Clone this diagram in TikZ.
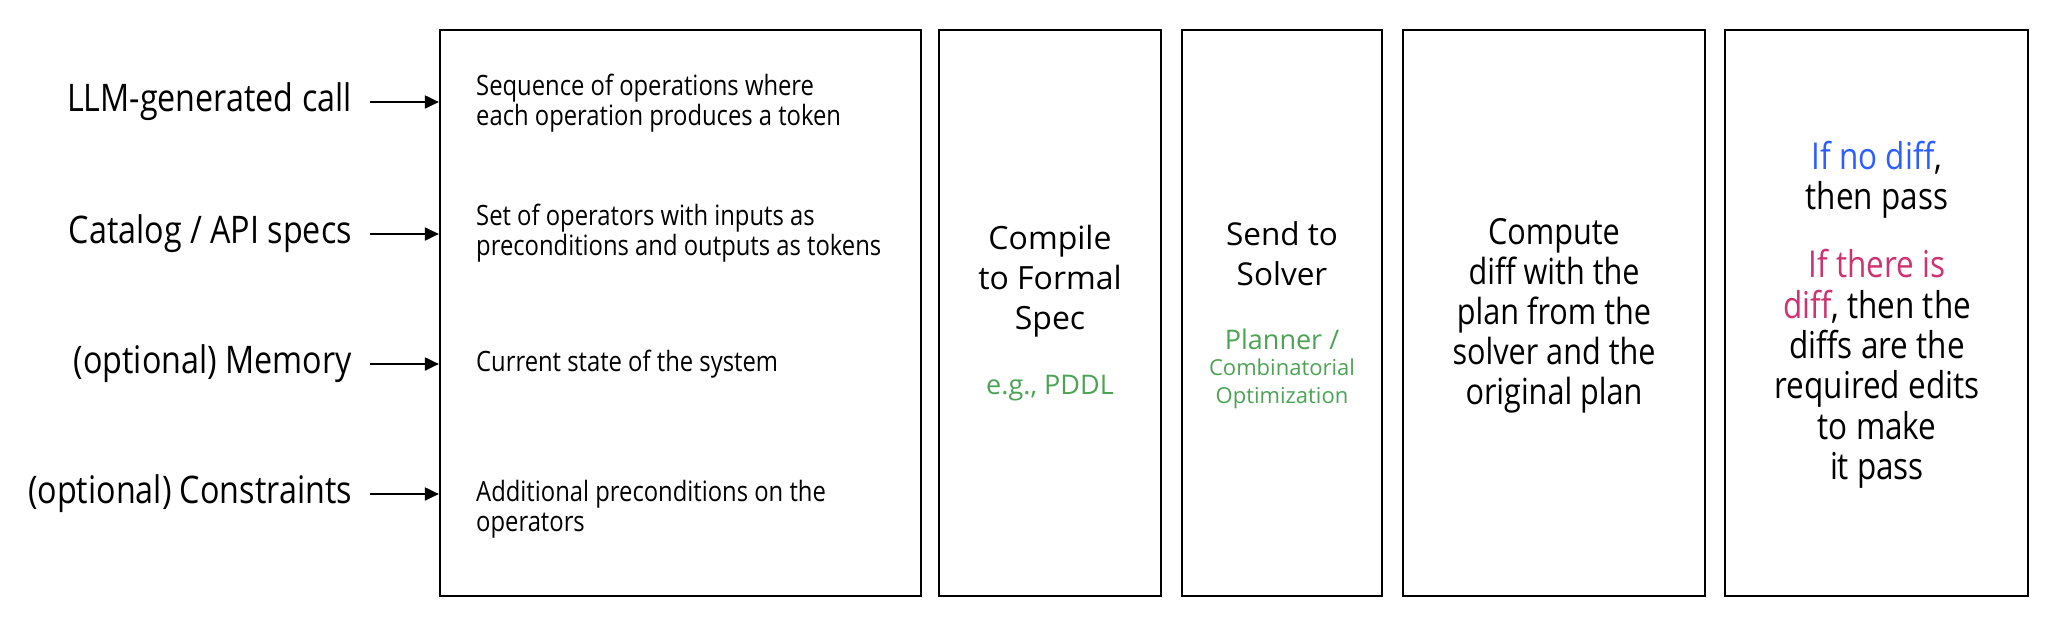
\documentclass[tikz,border=0pt]{standalone}
\usepackage{fontspec}
\setmainfont{Open Sans}
\newfontfamily\narrowf[FakeStretch=0.85]{Open Sans}
\usetikzlibrary{arrows.meta}
\definecolor{grn}{RGB}{76,163,84}
\definecolor{blu}{RGB}{45,95,255}
\definecolor{mag}{RGB}{204,51,112}
\tikzset{
  box/.style={draw=black, line width=2.2pt, minimum width=#1, minimum height=566pt, inner sep=0pt},
  lbl/.style={anchor=east, inner sep=0pt, font=\narrowf\fontsize{38}{44}\selectfont},
  desc/.style={anchor=west, align=left, inner sep=0pt, font=\narrowf\fontsize{28}{30}\selectfont},
  big/.style={align=center, inner sep=0pt, font=\fontsize{32}{40}\selectfont},
  bign/.style={align=center, inner sep=0pt, font=\narrowf\fontsize{36}{40}\selectfont},
  arr/.style={-{Triangle[length=14pt,width=13pt]}, line width=2pt}
}
\begin{document}
\begin{tikzpicture}[x=1pt,y=-1pt]
\useasboundingbox (0,0) rectangle (2060,632);
% boxes
\node[box=481pt] (b1) at (680.5,313) {};
\node[box=222pt] (b2) at (1050,313) {};
\node[box=200pt] (b3) at (1282,313) {};
\node[box=302pt] (b4) at (1554,313) {};
\node[box=303pt] (b5) at (1876.5,313) {};
% left labels
\node[lbl] (l1) at (352,102) {LLM-generated call};
\node[lbl] (l2) at (352,234) {Catalog / API specs};
\node[lbl] (l3) at (352,364) {(optional) Memory};
\node[lbl] (l4) at (352,494) {(optional) Constraints};
\foreach \n in {l1,l2,l3,l4}{
  \draw[arr] ([xshift=18pt]\n.east) -- (\n.east -| b1.west);
}
% box 1 texts
\node[desc] (d1) at (476,103) {Sequence of operations where\\each operation produces a token};
\node[desc] (d2) at (476,233) {Set of operators with inputs as\\preconditions and outputs as tokens};
\node[desc] (d3) at (476,364) {Current state of the system};
\node[desc] (d4) at (476,509) {Additional preconditions on the\\operators};
% box 2
\node[big] (t2) at (1050,281) {Compile\\to Formal\\Spec};
\node[big, text=grn, font=\fontsize{27}{30}\selectfont] (g2) at (1050,388) {e.g., PDDL};
% box 3
\node[big, font=\fontsize{31.5}{40}\selectfont] (t3) at (1282,253.5) {Send to\\Solver};
\node[big, text=grn, font=\fontsize{27}{30}\selectfont] (g3a) at (1282,339) {Planner /};
\node[big, text=grn, font=\fontsize{22}{28}\selectfont] (g3b) at (1282,384) {Combinatorial\\Optimization};
% box 4
\node[bign] (t4) at (1554,316) {Compute\\diff with the\\plan from the\\solver and the\\original plan};
% box 5
\node[bign, font=\narrowf\fontsize{37}{40.4}\selectfont] (t5a) at (1877,180) {\textcolor{blu}{If no diff},\\then pass};
\node[bign, font=\narrowf\fontsize{37}{40.4}\selectfont] (t5b) at (1877,369) {\textcolor{mag}{If there is}\\\textcolor{mag}{diff}, then the\\diffs are the\\required edits\\to make\\it pass};
\end{tikzpicture}
\end{document}
